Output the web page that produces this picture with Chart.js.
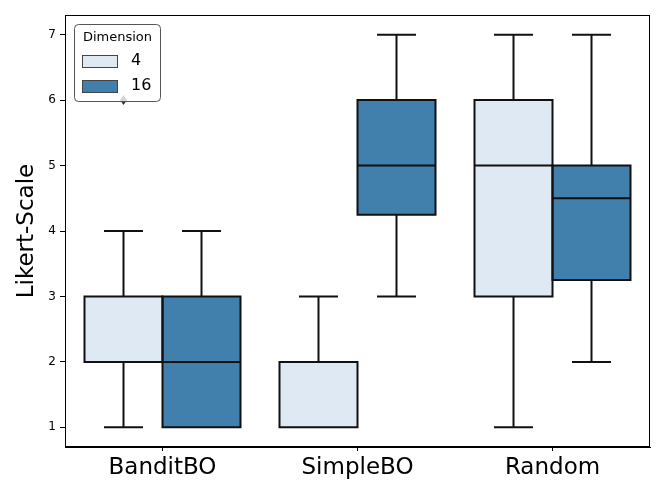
<!DOCTYPE html>
<html>
<head>
<meta charset="utf-8">
<script src="https://cdn.jsdelivr.net/npm/chart.js@4"></script>
<style>
  html, body { margin: 0; padding: 0; background: #fff; }
  #wrap { width: 664px; height: 498px; }
</style>
</head>
<body>
<div id="wrap"><canvas id="likert"></canvas></div>
<script>
const categories = ['BanditBO', 'SimpleBO', 'Random'];
const dimensions = ['4', '16'];
const yTicks = [1, 2, 3, 4, 5, 6, 7];

// box stats per dimension, one entry per category
const whiskerLow4  = [1, 1, 1];
const q1_4         = [2, 1, 3];
const median4      = [2, 1, 5];
const q3_4         = [3, 2, 6];
const whiskerHigh4 = [4, 3, 7];
const outliers4    = [[6], [], []];

const whiskerLow16  = [1, 3, 2];
const q1_16         = [1, 4.25, 3.25];
const median16      = [2, 5, 4.5];
const q3_16         = [3, 6, 5];
const whiskerHigh16 = [4, 7, 7];
const outliers16    = [[], [], []];

const stats = [
  { lo: whiskerLow4, q1: q1_4, med: median4, q3: q3_4, hi: whiskerHigh4, out: outliers4 },
  { lo: whiskerLow16, q1: q1_16, med: median16, q3: q3_16, hi: whiskerHigh16, out: outliers16 }
];

const colors = ['#dfe9f3', '#417fac'];
const edge = '#111';
const font = '"DejaVu Sans", sans-serif';

const boxParts = {
  id: 'boxParts',
  afterDatasetsDraw(chart) {
    const ctx = chart.ctx;
    const y = chart.scales.y;
    ctx.save();
    ctx.strokeStyle = edge;
    ctx.lineWidth = 2;
    stats.forEach((s, di) => {
      chart.getDatasetMeta(di).data.forEach((bar, i) => {
        const cx = bar.x, half = bar.width / 2, cap = bar.width / 4;
        ctx.beginPath();
        // box outline, centred on the edges
        ctx.rect(cx - half, bar.y, bar.width, bar.base - bar.y);
        // whiskers
        ctx.moveTo(cx, y.getPixelForValue(s.q3[i]));
        ctx.lineTo(cx, y.getPixelForValue(s.hi[i]));
        ctx.moveTo(cx - cap, y.getPixelForValue(s.hi[i]));
        ctx.lineTo(cx + cap, y.getPixelForValue(s.hi[i]));
        ctx.moveTo(cx, y.getPixelForValue(s.q1[i]));
        ctx.lineTo(cx, y.getPixelForValue(s.lo[i]));
        ctx.moveTo(cx - cap, y.getPixelForValue(s.lo[i]));
        ctx.lineTo(cx + cap, y.getPixelForValue(s.lo[i]));
        // median
        ctx.moveTo(cx - half, y.getPixelForValue(s.med[i]));
        ctx.lineTo(cx + half, y.getPixelForValue(s.med[i]));
        ctx.stroke();
        // outliers as small diamonds
        ctx.fillStyle = '#333';
        s.out[i].forEach(v => {
          const py = y.getPixelForValue(v);
          ctx.beginPath();
          ctx.moveTo(cx, py - 5);
          ctx.lineTo(cx + 3.5, py);
          ctx.lineTo(cx, py + 5);
          ctx.lineTo(cx - 3.5, py);
          ctx.closePath();
          ctx.fill();
        });
      });
    });
    // frame around plot area
    const a = chart.chartArea;
    ctx.lineWidth = 1;
    ctx.strokeStyle = '#000';
    ctx.strokeRect(a.left + 0.5, a.top + 0.5, a.right - a.left - 1, a.bottom - a.top - 1);
    ctx.restore();
  },
  afterDraw(chart) {
    // legend box inside the plot, top left
    const ctx = chart.ctx;
    const a = chart.chartArea;
    const lx = a.left + 9, ly = a.top + 9, lw = 86, lh = 77;
    ctx.save();
    ctx.fillStyle = 'rgba(255,255,255,0.8)';
    ctx.strokeStyle = '#555';
    ctx.lineWidth = 1;
    ctx.beginPath();
    ctx.roundRect(lx + 0.5, ly + 0.5, lw, lh, 4);
    ctx.fill();
    ctx.stroke();
    ctx.fillStyle = '#000';
    ctx.textBaseline = 'middle';
    ctx.textAlign = 'center';
    ctx.font = '13px ' + font;
    ctx.fillText('Dimension', lx + lw / 2 + 0.5, ly + 14);
    ctx.textAlign = 'left';
    dimensions.forEach((d, i) => {
      const sy = ly + 31 + i * 25;
      ctx.fillStyle = colors[i];
      ctx.fillRect(lx + 8, sy, 35, 12);
      ctx.strokeStyle = '#444';
      ctx.strokeRect(lx + 8.5, sy + 0.5, 35, 12);
      ctx.fillStyle = '#000';
      ctx.font = '16px ' + font;
      ctx.fillText(d, lx + 57, sy + 6);
    });
    ctx.restore();
  }
};

new Chart(document.getElementById('likert'), {
  type: 'bar',
  data: {
    labels: categories,
    datasets: dimensions.map((d, di) => ({
      label: d,
      data: categories.map((c, i) => [stats[di].q1[i], stats[di].q3[i]]),
      backgroundColor: colors[di],
      borderWidth: 0,
      categoryPercentage: 0.8,
      barPercentage: 1.0
    }))
  },
  options: {
    responsive: true,
    maintainAspectRatio: false,
    animation: false,
    layout: { padding: { top: 15, right: 14, left: 0, bottom: 0 } },
    plugins: {
      legend: { display: false },
      tooltip: { enabled: false }
    },
    scales: {
      x: {
        offset: true,
        afterFit(scale) { scale.height = 51; },
        grid: { offset: false, drawOnChartArea: false, tickLength: 4, color: '#000' },
        border: { display: true, color: '#000' },
        ticks: { color: '#000', padding: 3, font: { family: font, size: 23 } }
      },
      y: {
        min: 0.7,
        max: 7.3,
        afterFit(scale) { scale.width = 65; },
        afterBuildTicks(scale) { scale.ticks = yTicks.map(v => ({ value: v })); },
        grid: { drawOnChartArea: false, tickLength: 5, color: '#000' },
        border: { display: true, color: '#000' },
        ticks: { color: '#000', padding: 4, font: { family: font, size: 12 } },
        title: {
          display: true,
          text: 'Likert-Scale',
          color: '#000',
          padding: { top: 13, bottom: 0 },
          font: { family: font, size: 23 }
        }
      }
    }
  },
  plugins: [boxParts]
});
</script>
</body>
</html>
